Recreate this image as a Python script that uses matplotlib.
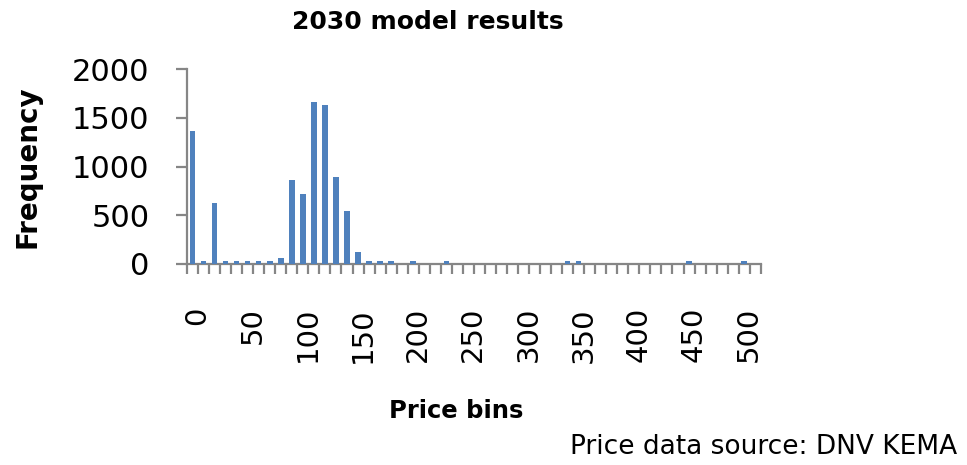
import numpy as np
from matplotlib import pyplot as plt
from matplotlib import transforms

# price bins (10 wide) plus Excel's "More" bin
bins = [str(b) for b in range(0, 510, 10)] + ['More']
# frequency per bin
freq = [1365, 35, 625, 35, 35, 35, 35, 35, 62, 866,
        715, 1660, 1632, 890, 540, 124, 35, 35, 35, 0,
        35, 0, 0, 35, 0, 0, 0, 0, 0, 0,
        0, 0, 0, 0, 35, 35, 0, 0, 0, 0,
        0, 0, 0, 0, 0, 35, 0, 0, 0, 0,
        35, 0]
yticks = [0, 500, 1000, 1500, 2000]

bar_color = '#4F81BD'
axis_color = '#868686'

fig = plt.figure(figsize=(9.67, 4.65), dpi=100)
ax = fig.add_axes([0.1934, 0.4323, 0.5933, 0.4187])

x = np.arange(len(bins))
ax.bar(x, freq, width=0.5, color=bar_color, zorder=3)

ax.set_xlim(-0.5, len(bins) - 0.5)
ax.set_ylim(0, 2000)

# labels every 5th bin, tick marks between every category
ax.set_xticks(x[::5])
ax.set_xticklabels([bins[i] for i in x[::5]], rotation=90, va='top', ha='center',
                   fontsize=21)
ax.set_xticks(np.arange(len(bins) + 1) - 0.5, minor=True)
ax.tick_params(axis='x', which='major', length=0, pad=31)
ax.tick_params(axis='x', which='minor', length=7.5, width=1.6, color=axis_color,
               direction='out')
# nudge rotated labels a little to the right, as in the original
shift = transforms.ScaledTranslation(5 / 100, 0, fig.dpi_scale_trans)
for lab in ax.get_xticklabels():
    lab.set_transform(lab.get_transform() + shift)

ax.set_yticks(yticks)
ax.set_yticklabels([str(v) for v in yticks], fontsize=22)
ax.tick_params(axis='y', length=8, width=1.6, color=axis_color, pad=19)

for side in ['top', 'right']:
    ax.spines[side].set_visible(False)
for side in ['left', 'bottom']:
    ax.spines[side].set_color(axis_color)
    ax.spines[side].set_linewidth(1.6)

fig.text(428 / 967, 1 - 22 / 465, '2030 model results', ha='center', va='center',
         fontsize=18, fontweight='bold')
fig.text(27.5 / 967, 1 - 167 / 465, 'Frequency', rotation=90, ha='center', va='center',
         fontsize=20, fontweight='bold')
fig.text(456 / 967, 1 - 411 / 465, 'Price bins', ha='center', va='center',
         fontsize=17.5, fontweight='bold')
fig.text(957 / 967, 1 - 447 / 465, 'Price data source: DNV KEMA', ha='right', va='center',
         fontsize=19)

fig.savefig('out.png', dpi=100)
